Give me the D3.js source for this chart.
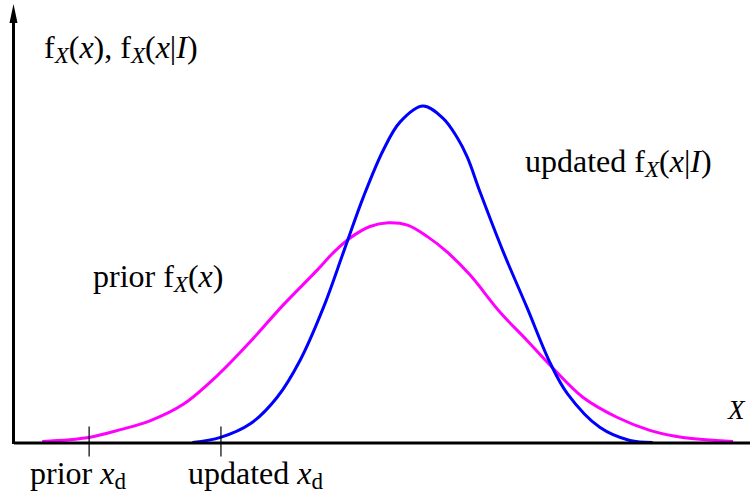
<!DOCTYPE html>
<html>
<head>
<meta charset="utf-8">
<script src="https://cdn.jsdelivr.net/npm/d3@7"></script>
<style>
  body { margin: 0; background: #fff; }
  text { font-family: "Liberation Serif", "Times New Roman", serif; fill: #000; }
</style>
</head>
<body>
<div id="chart"></div>
<script>
// prior density f_X(x)
const priorX = [3.9, 10.2, 14.5, 18.6, 23.1, 27.7, 32.2, 36.6, 41.2, 43.4, 45.7, 48.4, 50.9, 53.5, 56.2, 58.9, 62.0, 66.1, 69.7, 72.9, 77.3, 82.0, 86.4, 90.9, 97.7];
const priorY = [0.003, 0.015, 0.038, 0.065, 0.114, 0.199, 0.300, 0.407, 0.510, 0.562, 0.606, 0.640, 0.651, 0.644, 0.610, 0.564, 0.496, 0.385, 0.303, 0.228, 0.134, 0.074, 0.036, 0.015, 0.003];
// updated density f_X(x|I)
const updatedX = [24.3, 28.1, 32.2, 35.8, 38.9, 42.1, 44.9, 47.5, 50.2, 52.5, 55.6, 58.3, 60.2, 61.6, 63.4, 66.4, 69.7, 72.9, 75.2, 79.6, 83.7, 86.8];
const updatedY = [0.0, 0.015, 0.056, 0.134, 0.243, 0.401, 0.570, 0.727, 0.866, 0.950, 0.997, 0.961, 0.905, 0.846, 0.739, 0.570, 0.401, 0.234, 0.145, 0.045, 0.006, 0.0];
// design points on the X axis
const tickValues = [10.2, 28.1];
const tickLabels = ['prior', 'updated'];

// define the margins and size
const width = 750, height = 495;
const margin = ({ top: 105, right: 0, bottom: 52.5, left: 13.5 });

const x = d3.scaleLinear().domain([0, 100]).range([margin.left, width - margin.right]);
const y = d3.scaleLinear().domain([0, 1]).range([height - margin.bottom, margin.top]);

const svg = d3.select('#chart').append('svg')
    .attr('width', width)
    .attr('height', height);

// curves
const line = d3.line()
    .x(d => x(d[0]))
    .y(d => y(d[1]))
    .curve(d3.curveCatmullRom.alpha(0.5));

svg.append('path')
    .datum(priorX.map((v, i) => [v, priorY[i]]))
    .attr('fill', 'none')
    .attr('stroke', '#ff00ff')
    .attr('stroke-width', 3)
    .attr('stroke-linejoin', 'round')
    .attr('d', line);

svg.append('path')
    .datum(updatedX.map((v, i) => [v, updatedY[i]]))
    .attr('fill', 'none')
    .attr('stroke', '#0000ff')
    .attr('stroke-width', 3)
    .attr('stroke-linejoin', 'round')
    .attr('d', line);

// x axis with ticks crossing the baseline
svg.append('g')
    .attr('transform', `translate(0, ${y(0)})`)
    .call(d3.axisBottom(x).tickValues(tickValues).tickSizeInner(14).tickSizeOuter(0).tickFormat(''))
    .call(g => g.select('.domain').attr('stroke', '#000').attr('stroke-width', 3))
    .call(g => g.selectAll('.tick line').attr('stroke', '#000').attr('stroke-width', 1.2))
    .call(g => g.selectAll('.tick line').clone().attr('y1', 0).attr('y2', -16)
        .attr('stroke', '#000').attr('stroke-width', 1.2));

// y axis with arrow
svg.append('line')
    .attr('x1', x(0)).attr('x2', x(0))
    .attr('y1', y(0) + 1.5).attr('y2', 20)
    .attr('stroke', '#000')
    .attr('stroke-width', 3);
svg.append('path')
    .attr('d', `M${x(0)},4 L${x(0) - 4},23 L${x(0) + 4},23 Z`)
    .attr('fill', '#000');

// text with sub / italic parts
function label(px, py, parts, size) {
    const t = svg.append('text')
        .attr('x', px)
        .attr('y', py)
        .attr('font-size', size);
    let shift = 0;
    parts.forEach(([s, style]) => {
        const sub = style.includes('sub');
        const dy = (sub ? 5 : 0) - shift;
        shift = sub ? 5 : 0;
        t.append('tspan')
            .attr('dy', dy)
            .attr('font-style', style.includes('i') ? 'italic' : 'normal')
            .attr('font-size', sub ? size * 0.72 : size)
            .text(s);
    });
    return t;
}

label(44, 58, [['f', 'n'], ['X', 'i sub'], ['(', 'n'], ['x', 'i'], ['), f', 'n'], ['X', 'i sub'], ['(', 'n'], ['x', 'i'], ['|', 'n'], ['I', 'i'], [')', 'n']], 32);
label(525, 172, [['updated f', 'n'], ['X', 'i sub'], ['(', 'n'], ['x', 'i'], ['|', 'n'], ['I', 'i'], [')', 'n']], 32);
label(93, 287, [['prior f', 'n'], ['X', 'i sub'], ['(', 'n'], ['x', 'i'], [')', 'n']], 32);
label(728, 419, [['X', 'i']], 27);

// labels under the design points
label(30, 484, [[tickLabels[0] + ' ', 'n'], ['x', 'i'], ['d', 'sub']], 32);
label(188, 484, [[tickLabels[1] + ' ', 'n'], ['x', 'i'], ['d', 'sub']], 32);
</script>
</body>
</html>
